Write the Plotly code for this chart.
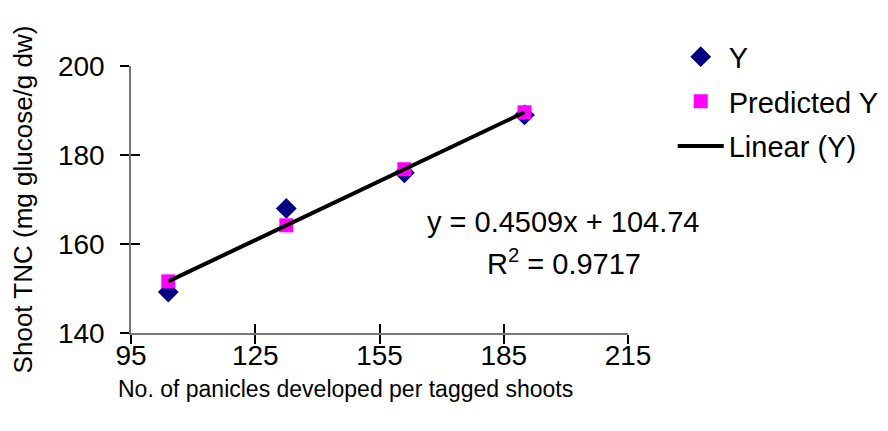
import plotly.graph_objects as go

# ---- data ----
panicles = [104, 132.5, 161, 190]
y_observed = [149.2, 168.0, 176.0, 189.0]
y_predicted = [151.6, 164.2, 176.8, 189.6]
equation_text = "y = 0.4509x + 104.74"
r2_text = "R<sup>2</sup> = 0.9717"
x_title = "No. of panicles developed per tagged shoots"
y_title = "Shoot TNC (mg glucose/g dw)"
x_ticks = [95, 125, 155, 185, 215]
y_ticks = [140, 160, 180, 200]

FONT = "Liberation Sans, Arial, sans-serif"

fig = go.Figure()
fig.add_trace(go.Scatter(
    x=panicles, y=y_observed, mode="markers", name="Y", legendgroup="a",
    marker=dict(symbol="diamond", size=16, color="#000080"),
))
fig.add_trace(go.Scatter(
    x=panicles, y=y_predicted, mode="markers", name="Predicted Y", legendgroup="b",
    marker=dict(symbol="square", size=14, color="#FF00FF"),
))
fig.add_trace(go.Scatter(
    x=[panicles[0], panicles[-1]], y=[y_predicted[0], y_predicted[-1]],
    mode="lines", name="Linear (Y)", legendgroup="c",
    line=dict(color="black", width=4),
))

axis_common = dict(showgrid=False, zeroline=False, showline=True,
                   linecolor="#777777", linewidth=1.5,
                   ticks="outside", ticklen=9, tickwidth=1.5, tickcolor="black",
                   tickfont=dict(family=FONT, size=28, color="black"))

fig.update_layout(
    width=888, height=431,
    margin=dict(l=123, r=265, t=58, b=106),
    paper_bgcolor="white", plot_bgcolor="white",
    font=dict(family=FONT, color="black"),
    xaxis=dict(range=[95, 215], tickvals=x_ticks, ticktext=[str(v) for v in x_ticks],
               ticklabelstandoff=-12, **axis_common),
    yaxis=dict(range=[140, 200], tickvals=y_ticks, ticktext=[str(v) for v in y_ticks],
               ticklabelstandoff=10,
               title=dict(text=y_title, font=dict(family=FONT, size=26), standoff=18),
               **axis_common),
    xaxis2=dict(range=[95, 215], tickvals=x_ticks, overlaying="x", side="bottom",
                anchor="y2", showgrid=False, zeroline=False, showline=False,
                ticks="inside", ticklen=9, tickwidth=1.5, tickcolor="black",
                showticklabels=False),
    yaxis2=dict(range=[140, 200], tickvals=y_ticks, overlaying="y", side="left",
                anchor="x2", showgrid=False, zeroline=False, showline=False,
                ticks="inside", ticklen=9, tickwidth=1.5, tickcolor="black",
                showticklabels=False),
    showlegend=True,
    legend=dict(x=1.09, y=1.13, xanchor="left", yanchor="top",
                font=dict(family=FONT, size=29, color="black"),
                traceorder="grouped", tracegroupgap=4,
                bgcolor="rgba(0,0,0,0)", itemwidth=46),
    annotations=[
        dict(x=199.5, y=164.9, xref="x", yref="y", text=equation_text, showarrow=False,
             font=dict(family=FONT, size=29, color="black"), xanchor="center"),
        dict(x=199.5, y=156.0, xref="x", yref="y", text=r2_text, showarrow=False,
             font=dict(family=FONT, size=29, color="black"), xanchor="center"),
        dict(x=0.432, y=-0.21, xref="paper", yref="paper", text=x_title,
             showarrow=False, font=dict(family=FONT, size=23, color="black"),
             xanchor="center", yanchor="middle"),
    ],
)

# invisible helper trace so the overlay axes (inside half of the crossing ticks) render
fig.add_trace(go.Scatter(x=[95], y=[140], xaxis="x2", yaxis="y2", mode="markers",
                         marker=dict(opacity=0), showlegend=False, hoverinfo="skip"))

fig.write_html("out.html")
